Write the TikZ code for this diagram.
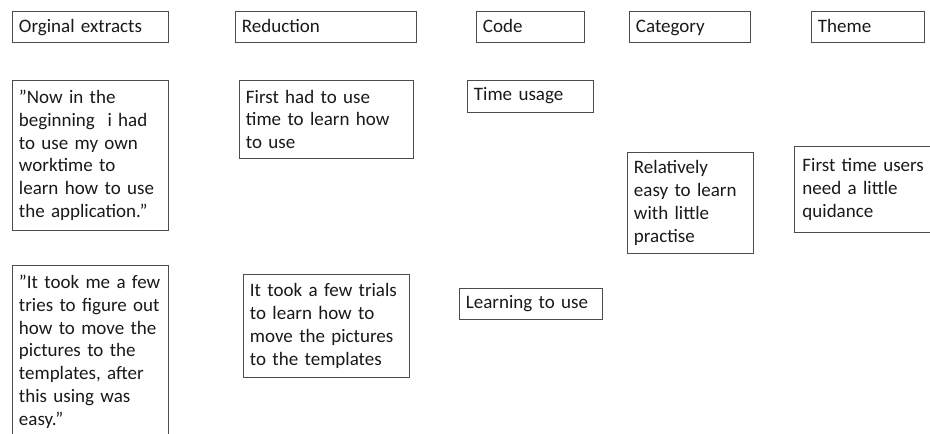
\documentclass[tikz,border=0pt]{standalone}
\usepackage{fontspec}
\setmainfont{Carlito}
\begin{document}
\begin{tikzpicture}[x=1pt,y=-1pt,
  box/.style={draw=black!70, line width=0.9pt, anchor=north west,
    align=left, inner xsep=6.5pt, inner ysep=4pt, text=black!90,
    font=\fontsize{19}{22.7}\selectfont},
  codebox/.style={box, text height=13.5pt, text depth=4.5pt},
  head/.style={box, text height=15pt, text depth=3pt},
  boxw/.style={text width=#1pt-13pt, minimum width=#1pt},
  boxh/.style={minimum height=#1pt}]
\useasboundingbox (0,0) rectangle (930,434);
\clip (0,0) rectangle (930,434);

% column headers
\node[head, boxw=156, boxh=31] (hOrig)  at (12,11)  {Orginal extracts};
\node[head, boxw=181, boxh=31] (hRed)   at (235,11) {Reduction};
\node[head, boxw=108, boxh=31] (hCode)  at (476,11) {Code};
\node[head, boxw=121, boxh=31] (hCat)   at (629,11) {Category};
\node[head, boxw=113, boxh=31] (hTheme) at (811,11) {Theme};

% original extracts
\node[box, boxw=156, boxh=150] (quoteA) at (12,80)
  {"Now in the\\beginning \ i had\\to use my own\\worktime to\\learn how to use\\the application."};
\node[box, boxw=156, inner ysep=10pt] (quoteB) at (12,265)
  {"It took me a few\\tries to figure out\\how to move the\\pictures to the\\templates, after\\this using was\\easy."};

% reductions
\node[box, boxw=174, boxh=78] (redA) at (239,80)
  {First had to use\\time to learn how\\to use};
\node[box, boxw=166, boxh=103] (redB) at (243,274)
  {It took a few trials\\to learn how to\\move the pictures\\to the templates};

% codes
\node[codebox, boxw=126, boxh=32] (codeA) at (467,80)  {Time usage};
\node[codebox, boxw=143, boxh=31] (codeB) at (459,288) {Learning to use};

% category and theme
\node[box, boxw=126, boxh=101] (catA) at (627,152)
  {Relatively\\easy to learn\\with little\\practise};
\node[box, boxw=134, boxh=86, inner xsep=8pt] (themeA) at (794,146)
  {First~time~users\\need a little\\quidance};
\end{tikzpicture}
\end{document}
